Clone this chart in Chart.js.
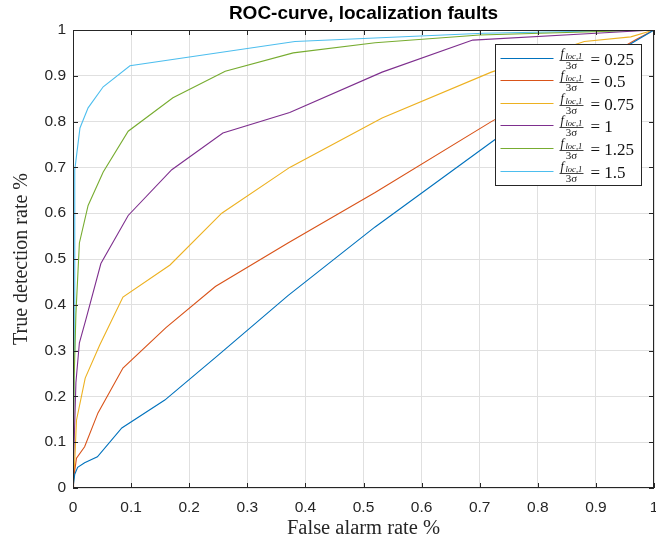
<!DOCTYPE html>
<html>
<head>
<meta charset="utf-8">
<script src="https://cdn.jsdelivr.net/npm/chart.js@4.4.1/dist/chart.umd.min.js"></script>
<style>
  html, body { margin: 0; padding: 0; background: #fff; }
  #roc { display: block; }
</style>
</head>
<body>
<canvas id="roc" width="656" height="543"></canvas>
<script>
// f_loc,1 / 3sigma ratios, one curve each
const ratios = ["0.25", "0.5", "0.75", "1", "1.25", "1.5"];
const colors = ["#0072BD", "#D95319", "#EDB120", "#7E2F8E", "#77AC30", "#4DBEEE"];

// false alarm rate (x) and true detection rate (y) per curve
const far025 = [0, 0.003, 0.008, 0.02, 0.042, 0.084, 0.158, 0.25, 0.37, 0.52, 0.72, 0.85, 0.96, 1];
const tdr025 = [0, 0.03, 0.045, 0.055, 0.068, 0.131, 0.192, 0.29, 0.42, 0.57, 0.755, 0.875, 0.97, 1];

const far050 = [0, 0.001, 0.006, 0.02, 0.043, 0.086, 0.16, 0.245, 0.37, 0.52, 0.72, 0.86, 0.97, 1];
const tdr050 = [0, 0.02, 0.065, 0.09, 0.164, 0.262, 0.35, 0.44, 0.535, 0.645, 0.8, 0.9, 0.98, 1];

const far075 = [0, 0.002, 0.006, 0.021, 0.046, 0.086, 0.167, 0.256, 0.373, 0.532, 0.72, 0.88, 0.96, 1];
const tdr075 = [0, 0.03, 0.148, 0.24, 0.312, 0.417, 0.487, 0.6, 0.7, 0.808, 0.908, 0.975, 0.985, 1];

const far100 = [0, 0.002, 0.005, 0.011, 0.022, 0.048, 0.095, 0.17, 0.258, 0.373, 0.532, 0.688, 0.9, 1];
const tdr100 = [0, 0.1, 0.23, 0.317, 0.367, 0.49, 0.595, 0.695, 0.775, 0.82, 0.908, 0.978, 0.993, 1];

const far125 = [0, 0.002, 0.005, 0.011, 0.026, 0.052, 0.095, 0.172, 0.262, 0.379, 0.52, 0.70, 1];
const tdr125 = [0, 0.24, 0.38, 0.535, 0.617, 0.69, 0.779, 0.852, 0.91, 0.95, 0.972, 0.989, 1];

const far150 = [0, 0.002, 0.003, 0.012, 0.026, 0.052, 0.098, 0.382, 0.706, 1];
const tdr150 = [0, 0.3, 0.694, 0.786, 0.83, 0.876, 0.922, 0.975, 0.993, 1];

const xTickLabels = ["0", "0.1", "0.2", "0.3", "0.4", "0.5", "0.6", "0.7", "0.8", "0.9", "1"];
const yTickLabels = ["0", "0.1", "0.2", "0.3", "0.4", "0.5", "0.6", "0.7", "0.8", "0.9", "1"];

const curves = [
  [far025, tdr025], [far050, tdr050], [far075, tdr075],
  [far100, tdr100], [far125, tdr125], [far150, tdr150]
];

const axisColor = "#262626";
const serif = "'Liberation Serif', 'Times New Roman', serif";
const sans = "'Liberation Sans', Arial, sans-serif";

// box round the axes with inward ticks, like matlab
const matlabBox = {
  id: "matlabBox",
  afterDatasetsDraw(chart) {
    const { ctx, chartArea: a, scales: { x, y } } = chart;
    ctx.save();
    ctx.strokeStyle = axisColor;
    ctx.lineWidth = 1;
    ctx.beginPath();
    x.ticks.forEach(t => {
      const px = Math.round(x.getPixelForValue(t.value)) + 0.5;
      ctx.moveTo(px, a.bottom); ctx.lineTo(px, a.bottom - 5);
      ctx.moveTo(px, a.top); ctx.lineTo(px, a.top + 5);
    });
    y.ticks.forEach(t => {
      const py = Math.round(y.getPixelForValue(t.value)) + 0.5;
      ctx.moveTo(a.left, py); ctx.lineTo(a.left + 5, py);
      ctx.moveTo(a.right, py); ctx.lineTo(a.right - 5, py);
    });
    ctx.stroke();
    ctx.strokeRect(Math.round(a.left) + 0.5, Math.round(a.top) + 0.5,
      Math.round(a.right - a.left) - 1, Math.round(a.bottom - a.top) - 1);
    ctx.restore();
  }
};

// legend with the fraction f_loc,1 / 3σ
const fracLegend = {
  id: "fracLegend",
  afterDraw(chart) {
    const { ctx, chartArea: a } = chart;
    const w = 146, h = 141;
    const left = Math.round(a.right - 13 - w) + 0.5;
    const top = Math.round(a.top + 14) + 0.5;
    ctx.save();
    ctx.fillStyle = "#fff";
    ctx.fillRect(left, top, w, h);
    ctx.strokeStyle = axisColor;
    ctx.lineWidth = 1;
    ctx.strokeRect(left, top, w, h);

    chart.data.datasets.forEach((ds, i) => {
      const cy = Math.round(top + 13 + i * 22.6) + 0.5;
      ctx.strokeStyle = ds.borderColor;
      ctx.beginPath();
      ctx.moveTo(left + 5, cy);
      ctx.lineTo(left + 58, cy);
      ctx.stroke();

      ctx.fillStyle = "#111";
      ctx.textBaseline = "alphabetic";
      ctx.textAlign = "left";
      ctx.font = "italic 12.5px " + serif;
      ctx.fillText("f", left + 65, cy - 1.5);
      ctx.font = "italic 8.5px " + serif;
      ctx.fillText("loc,1", left + 70, cy + 0.5);

      ctx.strokeStyle = "#111";
      ctx.lineWidth = 0.8;
      ctx.beginPath();
      ctx.moveTo(left + 64, cy + 2);
      ctx.lineTo(left + 88, cy + 2);
      ctx.stroke();
      ctx.lineWidth = 1;

      ctx.textAlign = "center";
      ctx.font = "11px " + serif;
      ctx.fillText("3σ", left + 76, cy + 10.5);

      ctx.textAlign = "left";
      ctx.textBaseline = "middle";
      ctx.font = "17px " + serif;
      ctx.fillText("= " + ratios[i], left + 95, cy + 2);
    });
    ctx.restore();
  }
};

new Chart(document.getElementById("roc").getContext("2d"), {
  type: "scatter",
  data: {
    datasets: curves.map(([xs, ys], i) => ({
      label: ratios[i],
      data: xs.map((v, k) => ({ x: v, y: ys[k] })),
      showLine: true,
      borderColor: colors[i],
      backgroundColor: colors[i],
      borderWidth: 1.1,
      pointRadius: 0,
      tension: 0
    }))
  },
  options: {
    responsive: false,
    animation: false,
    layout: { padding: { left: 0, right: 2, top: 0, bottom: 0 } },
    plugins: {
      legend: { display: false },
      tooltip: { enabled: false },
      title: {
        display: true,
        text: "ROC-curve, localization faults",
        color: "#000",
        fullSize: false,
        font: { family: sans, size: 19, weight: "bold" },
        padding: { top: 2, bottom: 5.2 }
      }
    },
    scales: {
      x: {
        type: "linear",
        min: 0, max: 1,
        ticks: {
          stepSize: 0.1,
          color: axisColor,
          font: { family: sans, size: 15.5 },
          padding: 10,
          maxRotation: 0,
          callback: (v, i) => xTickLabels[i]
        },
        grid: { color: "#e0e0e0", drawTicks: false },
        border: { display: false },
        title: {
          display: true,
          text: "False alarm rate %",
          color: axisColor,
          font: { family: serif, size: 20.5 },
          padding: { top: 0, bottom: 2 }
        },
        afterFit: s => { s.height = 55; s.paddingLeft = 0; s.paddingRight = 0; }
      },
      y: {
        type: "linear",
        min: 0, max: 1,
        ticks: {
          stepSize: 0.1,
          color: axisColor,
          font: { family: sans, size: 15.5 },
          padding: 7,
          callback: (v, i) => yTickLabels[i]
        },
        grid: { color: "#e0e0e0", drawTicks: false },
        border: { display: false },
        title: {
          display: true,
          text: "True detection rate %",
          color: axisColor,
          font: { family: serif, size: 20 },
          padding: { top: 10, bottom: 0 }
        },
        afterFit: s => { s.width = 73; s.paddingTop = 0; s.paddingBottom = 0; }
      }
    }
  },
  plugins: [matlabBox, fracLegend]
});
</script>
</body>
</html>
